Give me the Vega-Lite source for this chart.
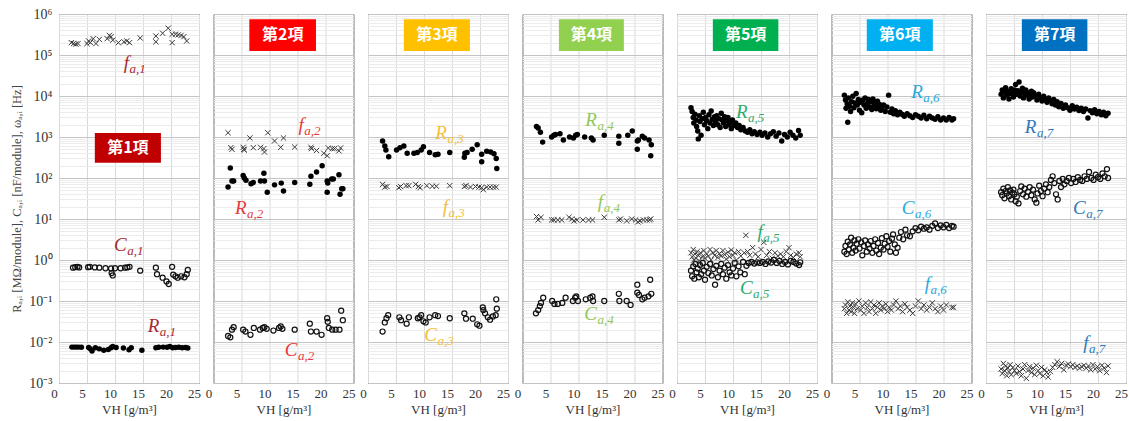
{
  "$schema": "https://vega.github.io/schema/vega-lite/v6.json",
  "background": "white",
  "padding": {"left": 10, "top": 7, "right": 5, "bottom": 5},
  "bounds": "flush",
  "spacing": 14.5,
  "datasets": {
    "pts": [
      {"p":1,"k":"f","x":2.2,"y":200000},{"p":1,"k":"f","x":2.6,"y":190000},{"p":1,"k":"f","x":3.0,"y":185000},{"p":1,"k":"f","x":3.4,"y":190000},{"p":1,"k":"f","x":5.0,"y":190000},{"p":1,"k":"f","x":5.3,"y":220000},{"p":1,"k":"f","x":5.6,"y":200000},{"p":1,"k":"f","x":6.1,"y":250000},{"p":1,"k":"f","x":6.6,"y":190000},{"p":1,"k":"f","x":7.2,"y":240000},{"p":1,"k":"f","x":8.6,"y":250000},{"p":1,"k":"f","x":9.0,"y":300000},{"p":1,"k":"f","x":9.3,"y":280000},{"p":1,"k":"f","x":9.6,"y":230000},{"p":1,"k":"f","x":10.6,"y":200000},{"p":1,"k":"f","x":11.6,"y":210000},{"p":1,"k":"f","x":12.1,"y":220000},{"p":1,"k":"f","x":12.6,"y":200000},{"p":1,"k":"f","x":14.5,"y":260000},{"p":1,"k":"f","x":17.3,"y":290000},{"p":1,"k":"f","x":17.3,"y":210000},{"p":1,"k":"f","x":18.5,"y":340000},{"p":1,"k":"f","x":19.5,"y":450000},{"p":1,"k":"f","x":20.2,"y":320000},{"p":1,"k":"f","x":20.2,"y":200000},{"p":1,"k":"f","x":20.8,"y":320000},{"p":1,"k":"f","x":21.3,"y":310000},{"p":1,"k":"f","x":21.8,"y":300000},{"p":1,"k":"f","x":22.3,"y":280000},{"p":1,"k":"f","x":22.8,"y":220000},
      {"p":1,"k":"C","x":2.5,"y":0.65},{"p":1,"k":"C","x":2.9,"y":0.67},{"p":1,"k":"C","x":3.3,"y":0.68},{"p":1,"k":"C","x":3.6,"y":0.66},{"p":1,"k":"C","x":5.2,"y":0.67},{"p":1,"k":"C","x":5.5,"y":0.68},{"p":1,"k":"C","x":6.4,"y":0.66},{"p":1,"k":"C","x":7.2,"y":0.65},{"p":1,"k":"C","x":8.3,"y":0.63},{"p":1,"k":"C","x":9.3,"y":0.62},{"p":1,"k":"C","x":9.4,"y":0.48},{"p":1,"k":"C","x":9.6,"y":0.42},{"p":1,"k":"C","x":10.0,"y":0.63},{"p":1,"k":"C","x":11.0,"y":0.63},{"p":1,"k":"C","x":11.8,"y":0.65},{"p":1,"k":"C","x":12.2,"y":0.66},{"p":1,"k":"C","x":12.6,"y":0.68},{"p":1,"k":"C","x":14.5,"y":0.55},{"p":1,"k":"C","x":17.3,"y":0.65},{"p":1,"k":"C","x":17.5,"y":0.45},{"p":1,"k":"C","x":18.5,"y":0.37},{"p":1,"k":"C","x":19.2,"y":0.30},{"p":1,"k":"C","x":19.6,"y":0.26},{"p":1,"k":"C","x":20.2,"y":0.68},{"p":1,"k":"C","x":20.4,"y":0.44},{"p":1,"k":"C","x":20.8,"y":0.40},{"p":1,"k":"C","x":21.2,"y":0.37},{"p":1,"k":"C","x":21.8,"y":0.40},{"p":1,"k":"C","x":22.4,"y":0.38},{"p":1,"k":"C","x":22.8,"y":0.45},{"p":1,"k":"C","x":23.0,"y":0.57},
      {"p":1,"k":"R","x":2.3,"y":0.0075},{"p":1,"k":"R","x":2.7,"y":0.0075},{"p":1,"k":"R","x":3.1,"y":0.0075},{"p":1,"k":"R","x":3.5,"y":0.0075},{"p":1,"k":"R","x":4.0,"y":0.0074},{"p":1,"k":"R","x":5.3,"y":0.0073},{"p":1,"k":"R","x":5.6,"y":0.0068},{"p":1,"k":"R","x":5.9,"y":0.006},{"p":1,"k":"R","x":6.5,"y":0.0072},{"p":1,"k":"R","x":7.2,"y":0.0068},{"p":1,"k":"R","x":8.0,"y":0.0063},{"p":1,"k":"R","x":8.8,"y":0.0066},{"p":1,"k":"R","x":9.3,"y":0.0072},{"p":1,"k":"R","x":9.6,"y":0.0078},{"p":1,"k":"R","x":10.2,"y":0.0073},{"p":1,"k":"R","x":11.5,"y":0.0071},{"p":1,"k":"R","x":12.5,"y":0.0065},{"p":1,"k":"R","x":12.9,"y":0.0072},{"p":1,"k":"R","x":14.8,"y":0.0063},{"p":1,"k":"R","x":17.3,"y":0.0072},{"p":1,"k":"R","x":17.8,"y":0.0074},{"p":1,"k":"R","x":18.6,"y":0.0075},{"p":1,"k":"R","x":19.3,"y":0.0074},{"p":1,"k":"R","x":19.8,"y":0.0078},{"p":1,"k":"R","x":20.3,"y":0.0072},{"p":1,"k":"R","x":20.8,"y":0.0073},{"p":1,"k":"R","x":21.4,"y":0.0074},{"p":1,"k":"R","x":22.0,"y":0.0072},{"p":1,"k":"R","x":22.6,"y":0.0073},{"p":1,"k":"R","x":23.0,"y":0.0071},

      {"p":2,"k":"f","x":2.6,"y":1270},{"p":2,"k":"f","x":3.1,"y":550},{"p":2,"k":"f","x":3.3,"y":500},{"p":2,"k":"f","x":5.3,"y":560},{"p":2,"k":"f","x":5.4,"y":500},{"p":2,"k":"f","x":5.5,"y":480},{"p":2,"k":"f","x":6.5,"y":950},{"p":2,"k":"f","x":7.1,"y":550},{"p":2,"k":"f","x":8.4,"y":560},{"p":2,"k":"f","x":9.0,"y":520},{"p":2,"k":"f","x":9.1,"y":430},{"p":2,"k":"f","x":9.7,"y":1270},{"p":2,"k":"f","x":10.9,"y":800},{"p":2,"k":"f","x":12.0,"y":560},{"p":2,"k":"f","x":12.5,"y":950},{"p":2,"k":"f","x":14.5,"y":570},{"p":2,"k":"f","x":17.4,"y":560},{"p":2,"k":"f","x":17.5,"y":520},{"p":2,"k":"f","x":18.4,"y":470},{"p":2,"k":"f","x":19.7,"y":400},{"p":2,"k":"f","x":20.3,"y":350},{"p":2,"k":"f","x":20.5,"y":540},{"p":2,"k":"f","x":21.2,"y":520},{"p":2,"k":"f","x":21.6,"y":520},{"p":2,"k":"f","x":22.4,"y":460},{"p":2,"k":"f","x":22.7,"y":540},
      {"p":2,"k":"R","x":2.6,"y":60},{"p":2,"k":"R","x":3.0,"y":175},{"p":2,"k":"R","x":3.3,"y":85},{"p":2,"k":"R","x":3.6,"y":85},{"p":2,"k":"R","x":5.3,"y":115},{"p":2,"k":"R","x":5.5,"y":100},{"p":2,"k":"R","x":5.8,"y":88},{"p":2,"k":"R","x":6.7,"y":72},{"p":2,"k":"R","x":7.1,"y":78},{"p":2,"k":"R","x":8.4,"y":85},{"p":2,"k":"R","x":9.0,"y":130},{"p":2,"k":"R","x":9.1,"y":85},{"p":2,"k":"R","x":9.6,"y":45},{"p":2,"k":"R","x":10.9,"y":68},{"p":2,"k":"R","x":12.1,"y":75},{"p":2,"k":"R","x":12.5,"y":48},{"p":2,"k":"R","x":14.5,"y":78},{"p":2,"k":"R","x":17.2,"y":70},{"p":2,"k":"R","x":17.4,"y":110},{"p":2,"k":"R","x":18.4,"y":140},{"p":2,"k":"R","x":19.4,"y":200},{"p":2,"k":"R","x":20.3,"y":85},{"p":2,"k":"R","x":20.4,"y":75},{"p":2,"k":"R","x":20.3,"y":45},{"p":2,"k":"R","x":21.1,"y":95},{"p":2,"k":"R","x":21.4,"y":95},{"p":2,"k":"R","x":22.4,"y":120},{"p":2,"k":"R","x":22.6,"y":40},{"p":2,"k":"R","x":22.9,"y":55},{"p":2,"k":"R","x":23.1,"y":55},
      {"p":2,"k":"C","x":2.6,"y":0.014},{"p":2,"k":"C","x":3.0,"y":0.013},{"p":2,"k":"C","x":3.3,"y":0.02},{"p":2,"k":"C","x":3.6,"y":0.023},{"p":2,"k":"C","x":5.3,"y":0.02},{"p":2,"k":"C","x":5.7,"y":0.018},{"p":2,"k":"C","x":6.6,"y":0.015},{"p":2,"k":"C","x":7.2,"y":0.022},{"p":2,"k":"C","x":8.3,"y":0.02},{"p":2,"k":"C","x":8.8,"y":0.022},{"p":2,"k":"C","x":9.1,"y":0.023},{"p":2,"k":"C","x":9.5,"y":0.021},{"p":2,"k":"C","x":10.7,"y":0.019},{"p":2,"k":"C","x":11.7,"y":0.022},{"p":2,"k":"C","x":12.0,"y":0.024},{"p":2,"k":"C","x":12.3,"y":0.021},{"p":2,"k":"C","x":14.5,"y":0.02},{"p":2,"k":"C","x":17.2,"y":0.028},{"p":2,"k":"C","x":17.4,"y":0.018},{"p":2,"k":"C","x":18.4,"y":0.018},{"p":2,"k":"C","x":19.3,"y":0.015},{"p":2,"k":"C","x":20.3,"y":0.038},{"p":2,"k":"C","x":20.4,"y":0.031},{"p":2,"k":"C","x":20.6,"y":0.022},{"p":2,"k":"C","x":21.2,"y":0.02},{"p":2,"k":"C","x":21.8,"y":0.02},{"p":2,"k":"C","x":22.5,"y":0.02},{"p":2,"k":"C","x":22.8,"y":0.058},{"p":2,"k":"C","x":23.1,"y":0.034},

      {"p":3,"k":"R","x":2.6,"y":800},{"p":3,"k":"R","x":3.0,"y":600},{"p":3,"k":"R","x":3.2,"y":480},{"p":3,"k":"R","x":3.7,"y":330},{"p":3,"k":"R","x":5.1,"y":480},{"p":3,"k":"R","x":5.7,"y":550},{"p":3,"k":"R","x":6.4,"y":600},{"p":3,"k":"R","x":7.0,"y":400},{"p":3,"k":"R","x":8.2,"y":400},{"p":3,"k":"R","x":8.8,"y":420},{"p":3,"k":"R","x":9.5,"y":480},{"p":3,"k":"R","x":9.9,"y":580},{"p":3,"k":"R","x":11.0,"y":420},{"p":3,"k":"R","x":12.0,"y":370},{"p":3,"k":"R","x":12.5,"y":380},{"p":3,"k":"R","x":14.6,"y":420},{"p":3,"k":"R","x":17.2,"y":320},{"p":3,"k":"R","x":17.3,"y":400},{"p":3,"k":"R","x":17.7,"y":420},{"p":3,"k":"R","x":18.6,"y":500},{"p":3,"k":"R","x":19.5,"y":650},{"p":3,"k":"R","x":20.3,"y":380},{"p":3,"k":"R","x":20.3,"y":250},{"p":3,"k":"R","x":21.2,"y":450},{"p":3,"k":"R","x":21.9,"y":430},{"p":3,"k":"R","x":22.5,"y":390},{"p":3,"k":"R","x":22.9,"y":300},{"p":3,"k":"R","x":23.0,"y":170},
      {"p":3,"k":"f","x":2.6,"y":70},{"p":3,"k":"f","x":3.0,"y":60},{"p":3,"k":"f","x":3.4,"y":62},{"p":3,"k":"f","x":5.5,"y":58},{"p":3,"k":"f","x":5.8,"y":62},{"p":3,"k":"f","x":6.8,"y":65},{"p":3,"k":"f","x":7.3,"y":65},{"p":3,"k":"f","x":8.5,"y":70},{"p":3,"k":"f","x":9.0,"y":62},{"p":3,"k":"f","x":9.3,"y":58},{"p":3,"k":"f","x":10.5,"y":65},{"p":3,"k":"f","x":11.5,"y":63},{"p":3,"k":"f","x":12.2,"y":63},{"p":3,"k":"f","x":14.6,"y":65},{"p":3,"k":"f","x":17.2,"y":62},{"p":3,"k":"f","x":17.5,"y":65},{"p":3,"k":"f","x":18.3,"y":60},{"p":3,"k":"f","x":19.2,"y":62},{"p":3,"k":"f","x":19.8,"y":60},{"p":3,"k":"f","x":20.3,"y":58},{"p":3,"k":"f","x":20.6,"y":52},{"p":3,"k":"f","x":21.2,"y":60},{"p":3,"k":"f","x":21.8,"y":60},{"p":3,"k":"f","x":22.4,"y":60},{"p":3,"k":"f","x":22.9,"y":60},
      {"p":3,"k":"C","x":2.6,"y":0.018},{"p":3,"k":"C","x":3.0,"y":0.03},{"p":3,"k":"C","x":3.3,"y":0.038},{"p":3,"k":"C","x":3.6,"y":0.045},{"p":3,"k":"C","x":5.6,"y":0.04},{"p":3,"k":"C","x":5.9,"y":0.034},{"p":3,"k":"C","x":6.9,"y":0.028},{"p":3,"k":"C","x":7.3,"y":0.04},{"p":3,"k":"C","x":8.9,"y":0.038},{"p":3,"k":"C","x":9.2,"y":0.04},{"p":3,"k":"C","x":9.5,"y":0.045},{"p":3,"k":"C","x":9.9,"y":0.032},{"p":3,"k":"C","x":10.3,"y":0.03},{"p":3,"k":"C","x":11.0,"y":0.04},{"p":3,"k":"C","x":12.0,"y":0.045},{"p":3,"k":"C","x":12.5,"y":0.043},{"p":3,"k":"C","x":14.6,"y":0.038},{"p":3,"k":"C","x":17.2,"y":0.05},{"p":3,"k":"C","x":17.5,"y":0.037},{"p":3,"k":"C","x":18.7,"y":0.037},{"p":3,"k":"C","x":19.5,"y":0.027},{"p":3,"k":"C","x":19.9,"y":0.025},{"p":3,"k":"C","x":20.5,"y":0.07},{"p":3,"k":"C","x":20.6,"y":0.06},{"p":3,"k":"C","x":20.9,"y":0.05},{"p":3,"k":"C","x":21.4,"y":0.04},{"p":3,"k":"C","x":21.8,"y":0.035},{"p":3,"k":"C","x":22.3,"y":0.042},{"p":3,"k":"C","x":22.8,"y":0.045},{"p":3,"k":"C","x":22.9,"y":0.11},{"p":3,"k":"C","x":23.0,"y":0.065},

      {"p":4,"k":"R","x":2.5,"y":1800},{"p":4,"k":"R","x":2.8,"y":1650},{"p":4,"k":"R","x":3.2,"y":1300},{"p":4,"k":"R","x":3.6,"y":750},{"p":4,"k":"R","x":5.2,"y":1000},{"p":4,"k":"R","x":5.6,"y":1100},{"p":4,"k":"R","x":5.9,"y":1150},{"p":4,"k":"R","x":6.7,"y":1200},{"p":4,"k":"R","x":7.3,"y":850},{"p":4,"k":"R","x":8.4,"y":1000},{"p":4,"k":"R","x":9.1,"y":950},{"p":4,"k":"R","x":9.5,"y":1100},{"p":4,"k":"R","x":9.8,"y":1150},{"p":4,"k":"R","x":11.1,"y":1000},{"p":4,"k":"R","x":12.3,"y":950},{"p":4,"k":"R","x":12.6,"y":850},{"p":4,"k":"R","x":14.6,"y":1100},{"p":4,"k":"R","x":17.2,"y":1050},{"p":4,"k":"R","x":17.2,"y":700},{"p":4,"k":"R","x":18.8,"y":1100},{"p":4,"k":"R","x":19.6,"y":1400},{"p":4,"k":"R","x":20.5,"y":800},{"p":4,"k":"R","x":20.5,"y":500},{"p":4,"k":"R","x":20.7,"y":850},{"p":4,"k":"R","x":21.4,"y":1050},{"p":4,"k":"R","x":21.8,"y":950},{"p":4,"k":"R","x":22.6,"y":850},{"p":4,"k":"R","x":22.9,"y":350},{"p":4,"k":"R","x":23.0,"y":650},
      {"p":4,"k":"f","x":2.5,"y":11.5},{"p":4,"k":"f","x":2.8,"y":9.5},{"p":4,"k":"f","x":3.3,"y":11},{"p":4,"k":"f","x":5.2,"y":9.5},{"p":4,"k":"f","x":5.6,"y":9.5},{"p":4,"k":"f","x":6.3,"y":9.5},{"p":4,"k":"f","x":7.0,"y":9.5},{"p":4,"k":"f","x":8.3,"y":11},{"p":4,"k":"f","x":8.8,"y":10},{"p":4,"k":"f","x":9.2,"y":9},{"p":4,"k":"f","x":9.7,"y":9.5},{"p":4,"k":"f","x":10.8,"y":9.5},{"p":4,"k":"f","x":11.8,"y":9.5},{"p":4,"k":"f","x":12.5,"y":9.5},{"p":4,"k":"f","x":14.6,"y":11},{"p":4,"k":"f","x":17.2,"y":9.5},{"p":4,"k":"f","x":17.5,"y":10},{"p":4,"k":"f","x":18.6,"y":9},{"p":4,"k":"f","x":19.5,"y":10},{"p":4,"k":"f","x":20.2,"y":9.5},{"p":4,"k":"f","x":20.6,"y":8.5},{"p":4,"k":"f","x":21.0,"y":9},{"p":4,"k":"f","x":21.6,"y":9.5},{"p":4,"k":"f","x":22.2,"y":9.5},{"p":4,"k":"f","x":22.7,"y":9.5},{"p":4,"k":"f","x":22.9,"y":10},
      {"p":4,"k":"C","x":2.4,"y":0.05},{"p":4,"k":"C","x":2.8,"y":0.06},{"p":4,"k":"C","x":3.1,"y":0.075},{"p":4,"k":"C","x":3.3,"y":0.09},{"p":4,"k":"C","x":3.7,"y":0.12},{"p":4,"k":"C","x":5.3,"y":0.1},{"p":4,"k":"C","x":5.7,"y":0.085},{"p":4,"k":"C","x":6.3,"y":0.085},{"p":4,"k":"C","x":7.1,"y":0.09},{"p":4,"k":"C","x":7.7,"y":0.12},{"p":4,"k":"C","x":9.0,"y":0.1},{"p":4,"k":"C","x":9.4,"y":0.12},{"p":4,"k":"C","x":9.6,"y":0.13},{"p":4,"k":"C","x":9.9,"y":0.1},{"p":4,"k":"C","x":11.3,"y":0.11},{"p":4,"k":"C","x":12.1,"y":0.12},{"p":4,"k":"C","x":12.5,"y":0.13},{"p":4,"k":"C","x":12.6,"y":0.1},{"p":4,"k":"C","x":14.6,"y":0.1},{"p":4,"k":"C","x":17.2,"y":0.15},{"p":4,"k":"C","x":17.3,"y":0.1},{"p":4,"k":"C","x":18.6,"y":0.1},{"p":4,"k":"C","x":19.3,"y":0.08},{"p":4,"k":"C","x":20.5,"y":0.25},{"p":4,"k":"C","x":20.5,"y":0.16},{"p":4,"k":"C","x":20.8,"y":0.14},{"p":4,"k":"C","x":21.4,"y":0.11},{"p":4,"k":"C","x":21.8,"y":0.12},{"p":4,"k":"C","x":22.5,"y":0.13},{"p":4,"k":"C","x":22.8,"y":0.33},{"p":4,"k":"C","x":23.0,"y":0.15},

      {"p":5,"k":"R","x":2.5,"y":5200},{"p":5,"k":"R","x":2.7,"y":4200},{"p":5,"k":"R","x":2.9,"y":3000},{"p":5,"k":"R","x":3.0,"y":2200},{"p":5,"k":"R","x":3.2,"y":3600},{"p":5,"k":"R","x":3.4,"y":2600},{"p":5,"k":"R","x":3.5,"y":1800},{"p":5,"k":"R","x":3.7,"y":1400},{"p":5,"k":"R","x":3.8,"y":900},{"p":5,"k":"R","x":4.0,"y":3300},{"p":5,"k":"R","x":4.1,"y":2400},{"p":5,"k":"R","x":4.3,"y":1100},{"p":5,"k":"R","x":4.5,"y":2800},{"p":5,"k":"R","x":4.7,"y":4000},{"p":5,"k":"R","x":4.9,"y":2000},{"p":5,"k":"R","x":5.1,"y":3000},{"p":5,"k":"R","x":5.3,"y":2500},{"p":5,"k":"R","x":5.5,"y":1600},{"p":5,"k":"R","x":5.7,"y":3500},{"p":5,"k":"R","x":5.9,"y":2200},{"p":5,"k":"R","x":6.1,"y":4300},{"p":5,"k":"R","x":6.3,"y":2700},{"p":5,"k":"R","x":6.5,"y":1900},{"p":5,"k":"R","x":6.7,"y":3100},{"p":5,"k":"R","x":6.9,"y":2400},{"p":5,"k":"R","x":7.1,"y":3300},{"p":5,"k":"R","x":7.3,"y":2000},{"p":5,"k":"R","x":7.5,"y":2800},{"p":5,"k":"R","x":7.7,"y":1700},{"p":5,"k":"R","x":7.9,"y":3800},{"p":5,"k":"R","x":8.1,"y":2600},{"p":5,"k":"R","x":8.3,"y":2200},{"p":5,"k":"R","x":8.5,"y":3100},{"p":5,"k":"R","x":8.7,"y":1800},{"p":5,"k":"R","x":8.9,"y":2500},{"p":5,"k":"R","x":9.1,"y":3000},{"p":5,"k":"R","x":9.3,"y":2000},{"p":5,"k":"R","x":9.5,"y":2300},{"p":5,"k":"R","x":9.7,"y":1600},{"p":5,"k":"R","x":9.9,"y":2600},{"p":5,"k":"R","x":10.2,"y":1900},{"p":5,"k":"R","x":10.5,"y":2200},{"p":5,"k":"R","x":10.8,"y":1700},{"p":5,"k":"R","x":11.1,"y":1900},{"p":5,"k":"R","x":11.4,"y":1500},{"p":5,"k":"R","x":11.8,"y":1700},{"p":5,"k":"R","x":12.2,"y":1400},{"p":5,"k":"R","x":12.6,"y":1300},{"p":5,"k":"R","x":13.0,"y":1500},{"p":5,"k":"R","x":13.4,"y":1200},{"p":5,"k":"R","x":13.8,"y":1350},{"p":5,"k":"R","x":14.3,"y":1150},{"p":5,"k":"R","x":14.8,"y":1300},{"p":5,"k":"R","x":15.2,"y":1100},{"p":5,"k":"R","x":15.7,"y":1250},{"p":5,"k":"R","x":16.2,"y":1000},{"p":5,"k":"R","x":16.7,"y":1200},{"p":5,"k":"R","x":17.2,"y":1350},{"p":5,"k":"R","x":17.7,"y":1050},{"p":5,"k":"R","x":18.2,"y":1250},{"p":5,"k":"R","x":18.7,"y":800},{"p":5,"k":"R","x":19.2,"y":1150},{"p":5,"k":"R","x":19.7,"y":1000},{"p":5,"k":"R","x":20.2,"y":1300},{"p":5,"k":"R","x":20.7,"y":1100},{"p":5,"k":"R","x":21.2,"y":950},{"p":5,"k":"R","x":21.7,"y":1450},{"p":5,"k":"R","x":22.0,"y":1100},
      {"p":5,"k":"f","x":2.5,"y":1.5},{"p":5,"k":"f","x":2.7,"y":1.2},{"p":5,"k":"f","x":2.9,"y":1.8},{"p":5,"k":"f","x":3.0,"y":1.0},{"p":5,"k":"f","x":3.2,"y":1.4},{"p":5,"k":"f","x":3.4,"y":1.1},{"p":5,"k":"f","x":3.6,"y":1.6},{"p":5,"k":"f","x":3.8,"y":1.3},{"p":5,"k":"f","x":4.0,"y":0.95},{"p":5,"k":"f","x":4.2,"y":1.5},{"p":5,"k":"f","x":4.5,"y":1.2},{"p":5,"k":"f","x":4.8,"y":1.7},{"p":5,"k":"f","x":5.0,"y":1.1},{"p":5,"k":"f","x":5.3,"y":1.4},{"p":5,"k":"f","x":5.6,"y":1.25},{"p":5,"k":"f","x":5.9,"y":1.8},{"p":5,"k":"f","x":6.1,"y":1.0},{"p":5,"k":"f","x":6.4,"y":1.5},{"p":5,"k":"f","x":6.7,"y":1.3},{"p":5,"k":"f","x":7.0,"y":1.7},{"p":5,"k":"f","x":7.3,"y":1.15},{"p":5,"k":"f","x":7.6,"y":1.45},{"p":5,"k":"f","x":7.9,"y":1.25},{"p":5,"k":"f","x":8.2,"y":1.7},{"p":5,"k":"f","x":8.5,"y":1.35},{"p":5,"k":"f","x":8.8,"y":1.05},{"p":5,"k":"f","x":9.1,"y":1.55},{"p":5,"k":"f","x":9.4,"y":1.2},{"p":5,"k":"f","x":9.7,"y":1.75},{"p":5,"k":"f","x":10.0,"y":1.3},{"p":5,"k":"f","x":10.3,"y":1.5},{"p":5,"k":"f","x":10.6,"y":1.0},{"p":5,"k":"f","x":11.0,"y":1.6},{"p":5,"k":"f","x":11.4,"y":1.25},{"p":5,"k":"f","x":12.0,"y":1.5},{"p":5,"k":"f","x":12.3,"y":4.0},{"p":5,"k":"f","x":12.6,"y":1.6},{"p":5,"k":"f","x":13.0,"y":1.3},{"p":5,"k":"f","x":13.5,"y":2.0},{"p":5,"k":"f","x":14.0,"y":1.4},{"p":5,"k":"f","x":14.5,"y":1.2},{"p":5,"k":"f","x":15.0,"y":1.8},{"p":5,"k":"f","x":15.5,"y":2.7},{"p":5,"k":"f","x":16.0,"y":1.3},{"p":5,"k":"f","x":16.5,"y":1.6},{"p":5,"k":"f","x":17.0,"y":1.1},{"p":5,"k":"f","x":17.5,"y":1.5},{"p":5,"k":"f","x":18.0,"y":1.25},{"p":5,"k":"f","x":18.5,"y":1.4},{"p":5,"k":"f","x":19.0,"y":1.2},{"p":5,"k":"f","x":19.5,"y":1.6},{"p":5,"k":"f","x":20.0,"y":2.0},{"p":5,"k":"f","x":20.3,"y":1.3},{"p":5,"k":"f","x":20.8,"y":1.15},{"p":5,"k":"f","x":21.3,"y":1.4},{"p":5,"k":"f","x":21.8,"y":1.5},{"p":5,"k":"f","x":22.0,"y":1.2},
      {"p":5,"k":"C","x":2.5,"y":0.55},{"p":5,"k":"C","x":2.7,"y":0.4},{"p":5,"k":"C","x":2.9,"y":0.7},{"p":5,"k":"C","x":3.1,"y":0.35},{"p":5,"k":"C","x":3.3,"y":0.8},{"p":5,"k":"C","x":3.5,"y":0.5},{"p":5,"k":"C","x":3.7,"y":0.62},{"p":5,"k":"C","x":3.9,"y":0.38},{"p":5,"k":"C","x":4.1,"y":0.75},{"p":5,"k":"C","x":4.3,"y":0.45},{"p":5,"k":"C","x":4.6,"y":0.85},{"p":5,"k":"C","x":4.8,"y":0.55},{"p":5,"k":"C","x":5.0,"y":0.33},{"p":5,"k":"C","x":5.3,"y":0.68},{"p":5,"k":"C","x":5.6,"y":0.48},{"p":5,"k":"C","x":5.9,"y":0.8},{"p":5,"k":"C","x":6.2,"y":0.42},{"p":5,"k":"C","x":6.5,"y":0.6},{"p":5,"k":"C","x":6.8,"y":0.25},{"p":5,"k":"C","x":7.0,"y":0.72},{"p":5,"k":"C","x":7.3,"y":0.38},{"p":5,"k":"C","x":7.6,"y":0.55},{"p":5,"k":"C","x":7.9,"y":0.8},{"p":5,"k":"C","x":8.2,"y":0.45},{"p":5,"k":"C","x":8.5,"y":0.65},{"p":5,"k":"C","x":8.8,"y":0.35},{"p":5,"k":"C","x":9.1,"y":0.75},{"p":5,"k":"C","x":9.4,"y":0.5},{"p":5,"k":"C","x":9.7,"y":0.42},{"p":5,"k":"C","x":10.0,"y":0.62},{"p":5,"k":"C","x":10.3,"y":0.85},{"p":5,"k":"C","x":10.6,"y":0.4},{"p":5,"k":"C","x":11.0,"y":0.7},{"p":5,"k":"C","x":11.3,"y":0.5},{"p":5,"k":"C","x":11.8,"y":0.9},{"p":5,"k":"C","x":12.1,"y":0.45},{"p":5,"k":"C","x":12.4,"y":0.72},{"p":5,"k":"C","x":12.8,"y":0.85},{"p":5,"k":"C","x":13.3,"y":0.9},{"p":5,"k":"C","x":13.8,"y":0.82},{"p":5,"k":"C","x":14.3,"y":0.88},{"p":5,"k":"C","x":14.8,"y":0.85},{"p":5,"k":"C","x":15.3,"y":0.9},{"p":5,"k":"C","x":15.8,"y":0.8},{"p":5,"k":"C","x":16.3,"y":0.92},{"p":5,"k":"C","x":16.8,"y":0.87},{"p":5,"k":"C","x":17.3,"y":1.0},{"p":5,"k":"C","x":17.8,"y":0.85},{"p":5,"k":"C","x":18.3,"y":0.95},{"p":5,"k":"C","x":18.8,"y":0.8},{"p":5,"k":"C","x":19.3,"y":0.9},{"p":5,"k":"C","x":19.8,"y":0.78},{"p":5,"k":"C","x":20.3,"y":0.95},{"p":5,"k":"C","x":20.8,"y":0.9},{"p":5,"k":"C","x":21.3,"y":0.82},{"p":5,"k":"C","x":21.8,"y":0.75},{"p":5,"k":"C","x":22.0,"y":0.88},

      {"p":6,"k":"R","x":2.3,"y":10500},{"p":6,"k":"R","x":2.5,"y":8000},{"p":6,"k":"R","x":2.6,"y":5000},{"p":6,"k":"R","x":2.8,"y":6500},{"p":6,"k":"R","x":2.9,"y":2300},{"p":6,"k":"R","x":3.0,"y":9000},{"p":6,"k":"R","x":3.2,"y":5600},{"p":6,"k":"R","x":3.4,"y":4200},{"p":6,"k":"R","x":3.6,"y":7200},{"p":6,"k":"R","x":3.8,"y":9800},{"p":6,"k":"R","x":4.0,"y":5200},{"p":6,"k":"R","x":4.2,"y":6800},{"p":6,"k":"R","x":4.4,"y":11500},{"p":6,"k":"R","x":4.6,"y":6000},{"p":6,"k":"R","x":4.8,"y":8200},{"p":6,"k":"R","x":5.0,"y":4500},{"p":6,"k":"R","x":5.2,"y":7000},{"p":6,"k":"R","x":5.4,"y":3900},{"p":6,"k":"R","x":5.6,"y":8000},{"p":6,"k":"R","x":5.8,"y":6000},{"p":6,"k":"R","x":6.0,"y":9000},{"p":6,"k":"R","x":6.2,"y":5000},{"p":6,"k":"R","x":6.4,"y":6600},{"p":6,"k":"R","x":6.6,"y":8200},{"p":6,"k":"R","x":6.8,"y":5400},{"p":6,"k":"R","x":7.0,"y":7200},{"p":6,"k":"R","x":7.2,"y":4700},{"p":6,"k":"R","x":7.4,"y":8500},{"p":6,"k":"R","x":7.6,"y":6000},{"p":6,"k":"R","x":7.8,"y":6800},{"p":6,"k":"R","x":8.0,"y":4900},{"p":6,"k":"R","x":8.2,"y":7400},{"p":6,"k":"R","x":8.4,"y":5500},{"p":6,"k":"R","x":8.6,"y":6200},{"p":6,"k":"R","x":8.8,"y":4500},{"p":6,"k":"R","x":9.0,"y":5200},{"p":6,"k":"R","x":9.3,"y":6000},{"p":6,"k":"R","x":9.6,"y":4200},{"p":6,"k":"R","x":9.9,"y":5400},{"p":6,"k":"R","x":10.2,"y":10500},{"p":6,"k":"R","x":10.5,"y":4000},{"p":6,"k":"R","x":10.8,"y":4800},{"p":6,"k":"R","x":11.1,"y":3700},{"p":6,"k":"R","x":11.4,"y":4400},{"p":6,"k":"R","x":11.8,"y":3500},{"p":6,"k":"R","x":12.2,"y":4000},{"p":6,"k":"R","x":12.6,"y":3600},{"p":6,"k":"R","x":13.0,"y":3200},{"p":6,"k":"R","x":13.5,"y":3700},{"p":6,"k":"R","x":14.0,"y":3300},{"p":6,"k":"R","x":14.5,"y":3000},{"p":6,"k":"R","x":15.0,"y":3500},{"p":6,"k":"R","x":15.5,"y":3200},{"p":6,"k":"R","x":16.0,"y":2900},{"p":6,"k":"R","x":16.5,"y":3400},{"p":6,"k":"R","x":17.0,"y":2800},{"p":6,"k":"R","x":17.5,"y":3200},{"p":6,"k":"R","x":18.0,"y":2900},{"p":6,"k":"R","x":18.5,"y":2700},{"p":6,"k":"R","x":19.0,"y":3100},{"p":6,"k":"R","x":19.5,"y":2600},{"p":6,"k":"R","x":20.0,"y":2900},{"p":6,"k":"R","x":20.5,"y":2600},{"p":6,"k":"R","x":21.0,"y":3000},{"p":6,"k":"R","x":21.5,"y":2600},{"p":6,"k":"R","x":21.8,"y":2800},
      {"p":6,"k":"C","x":2.3,"y":1.6},{"p":6,"k":"C","x":2.5,"y":2.2},{"p":6,"k":"C","x":2.7,"y":1.4},{"p":6,"k":"C","x":2.9,"y":2.8},{"p":6,"k":"C","x":3.1,"y":1.8},{"p":6,"k":"C","x":3.3,"y":2.4},{"p":6,"k":"C","x":3.5,"y":3.5},{"p":6,"k":"C","x":3.7,"y":1.5},{"p":6,"k":"C","x":3.9,"y":2.0},{"p":6,"k":"C","x":4.1,"y":3.0},{"p":6,"k":"C","x":4.3,"y":1.7},{"p":6,"k":"C","x":4.5,"y":2.5},{"p":6,"k":"C","x":4.8,"y":3.2},{"p":6,"k":"C","x":5.0,"y":1.9},{"p":6,"k":"C","x":5.3,"y":2.7},{"p":6,"k":"C","x":5.5,"y":1.3},{"p":6,"k":"C","x":5.8,"y":2.2},{"p":6,"k":"C","x":6.0,"y":3.0},{"p":6,"k":"C","x":6.3,"y":1.6},{"p":6,"k":"C","x":6.5,"y":2.4},{"p":6,"k":"C","x":6.8,"y":1.9},{"p":6,"k":"C","x":7.0,"y":2.9},{"p":6,"k":"C","x":7.3,"y":1.5},{"p":6,"k":"C","x":7.5,"y":2.2},{"p":6,"k":"C","x":7.8,"y":3.2},{"p":6,"k":"C","x":8.0,"y":1.7},{"p":6,"k":"C","x":8.3,"y":2.6},{"p":6,"k":"C","x":8.5,"y":1.4},{"p":6,"k":"C","x":8.8,"y":2.0},{"p":6,"k":"C","x":9.0,"y":3.4},{"p":6,"k":"C","x":9.3,"y":1.8},{"p":6,"k":"C","x":9.5,"y":2.5},{"p":6,"k":"C","x":9.8,"y":3.8},{"p":6,"k":"C","x":10.0,"y":2.1},{"p":6,"k":"C","x":10.3,"y":2.9},{"p":6,"k":"C","x":10.5,"y":1.6},{"p":6,"k":"C","x":10.8,"y":3.3},{"p":6,"k":"C","x":11.0,"y":4.2},{"p":6,"k":"C","x":11.3,"y":2.4},{"p":6,"k":"C","x":11.5,"y":1.5},{"p":6,"k":"C","x":11.8,"y":2.0},{"p":6,"k":"C","x":12.1,"y":3.5},{"p":6,"k":"C","x":12.4,"y":4.8},{"p":6,"k":"C","x":12.8,"y":3.2},{"p":6,"k":"C","x":13.2,"y":5.5},{"p":6,"k":"C","x":13.5,"y":4.0},{"p":6,"k":"C","x":14.0,"y":3.8},{"p":6,"k":"C","x":14.5,"y":5.0},{"p":6,"k":"C","x":15.0,"y":6.0},{"p":6,"k":"C","x":15.5,"y":5.3},{"p":6,"k":"C","x":16.0,"y":6.5},{"p":6,"k":"C","x":16.5,"y":5.8},{"p":6,"k":"C","x":17.0,"y":6.2},{"p":6,"k":"C","x":17.5,"y":5.5},{"p":6,"k":"C","x":18.0,"y":6.8},{"p":6,"k":"C","x":18.5,"y":7.8},{"p":6,"k":"C","x":19.0,"y":6.0},{"p":6,"k":"C","x":19.5,"y":7.0},{"p":6,"k":"C","x":20.0,"y":6.3},{"p":6,"k":"C","x":20.5,"y":7.2},{"p":6,"k":"C","x":21.0,"y":6.0},{"p":6,"k":"C","x":21.5,"y":6.8},{"p":6,"k":"C","x":21.8,"y":6.5},
      {"p":6,"k":"f","x":2.3,"y":0.065},{"p":6,"k":"f","x":2.5,"y":0.08},{"p":6,"k":"f","x":2.7,"y":0.05},{"p":6,"k":"f","x":2.9,"y":0.095},{"p":6,"k":"f","x":3.1,"y":0.06},{"p":6,"k":"f","x":3.3,"y":0.075},{"p":6,"k":"f","x":3.5,"y":0.055},{"p":6,"k":"f","x":3.7,"y":0.09},{"p":6,"k":"f","x":3.9,"y":0.07},{"p":6,"k":"f","x":4.1,"y":0.05},{"p":6,"k":"f","x":4.3,"y":0.085},{"p":6,"k":"f","x":4.6,"y":0.065},{"p":6,"k":"f","x":4.9,"y":0.1},{"p":6,"k":"f","x":5.2,"y":0.06},{"p":6,"k":"f","x":5.5,"y":0.075},{"p":6,"k":"f","x":5.8,"y":0.05},{"p":6,"k":"f","x":6.1,"y":0.09},{"p":6,"k":"f","x":6.4,"y":0.07},{"p":6,"k":"f","x":6.7,"y":0.055},{"p":6,"k":"f","x":7.0,"y":0.095},{"p":6,"k":"f","x":7.3,"y":0.065},{"p":6,"k":"f","x":7.6,"y":0.08},{"p":6,"k":"f","x":7.9,"y":0.05},{"p":6,"k":"f","x":8.2,"y":0.07},{"p":6,"k":"f","x":8.5,"y":0.09},{"p":6,"k":"f","x":8.8,"y":0.06},{"p":6,"k":"f","x":9.1,"y":0.075},{"p":6,"k":"f","x":9.4,"y":0.065},{"p":6,"k":"f","x":9.7,"y":0.085},{"p":6,"k":"f","x":10.0,"y":0.055},{"p":6,"k":"f","x":10.3,"y":0.07},{"p":6,"k":"f","x":10.7,"y":0.06},{"p":6,"k":"f","x":11.1,"y":0.08},{"p":6,"k":"f","x":11.5,"y":0.1},{"p":6,"k":"f","x":11.9,"y":0.065},{"p":6,"k":"f","x":12.3,"y":0.075},{"p":6,"k":"f","x":12.7,"y":0.055},{"p":6,"k":"f","x":13.1,"y":0.085},{"p":6,"k":"f","x":13.5,"y":0.07},{"p":6,"k":"f","x":14.0,"y":0.06},{"p":6,"k":"f","x":14.5,"y":0.05},{"p":6,"k":"f","x":15.0,"y":0.075},{"p":6,"k":"f","x":15.5,"y":0.1},{"p":6,"k":"f","x":16.0,"y":0.065},{"p":6,"k":"f","x":16.5,"y":0.08},{"p":6,"k":"f","x":17.0,"y":0.06},{"p":6,"k":"f","x":17.5,"y":0.07},{"p":6,"k":"f","x":18.0,"y":0.09},{"p":6,"k":"f","x":18.5,"y":0.065},{"p":6,"k":"f","x":19.0,"y":0.055},{"p":6,"k":"f","x":19.5,"y":0.075},{"p":6,"k":"f","x":20.0,"y":0.06},{"p":6,"k":"f","x":20.5,"y":0.08},{"p":6,"k":"f","x":21.5,"y":0.07},{"p":6,"k":"f","x":21.8,"y":0.07},

      {"p":7,"k":"R","x":2.7,"y":11000},{"p":7,"k":"R","x":2.9,"y":14000},{"p":7,"k":"R","x":3.1,"y":9000},{"p":7,"k":"R","x":3.3,"y":12500},{"p":7,"k":"R","x":3.5,"y":16000},{"p":7,"k":"R","x":3.7,"y":10500},{"p":7,"k":"R","x":3.9,"y":13000},{"p":7,"k":"R","x":4.1,"y":8500},{"p":7,"k":"R","x":4.3,"y":11500},{"p":7,"k":"R","x":4.5,"y":15000},{"p":7,"k":"R","x":4.7,"y":12000},{"p":7,"k":"R","x":4.9,"y":9500},{"p":7,"k":"R","x":5.1,"y":14000},{"p":7,"k":"R","x":5.3,"y":19000},{"p":7,"k":"R","x":5.5,"y":11000},{"p":7,"k":"R","x":5.7,"y":13500},{"p":7,"k":"R","x":5.9,"y":22000},{"p":7,"k":"R","x":6.1,"y":10000},{"p":7,"k":"R","x":6.3,"y":12500},{"p":7,"k":"R","x":6.5,"y":15500},{"p":7,"k":"R","x":6.7,"y":9000},{"p":7,"k":"R","x":6.9,"y":11500},{"p":7,"k":"R","x":7.1,"y":14000},{"p":7,"k":"R","x":7.3,"y":10500},{"p":7,"k":"R","x":7.5,"y":12000},{"p":7,"k":"R","x":7.7,"y":8500},{"p":7,"k":"R","x":7.9,"y":11000},{"p":7,"k":"R","x":8.1,"y":13000},{"p":7,"k":"R","x":8.3,"y":9500},{"p":7,"k":"R","x":8.5,"y":12000},{"p":7,"k":"R","x":8.8,"y":10000},{"p":7,"k":"R","x":9.1,"y":8000},{"p":7,"k":"R","x":9.4,"y":11000},{"p":7,"k":"R","x":9.7,"y":9000},{"p":7,"k":"R","x":10.0,"y":7500},{"p":7,"k":"R","x":10.3,"y":9800},{"p":7,"k":"R","x":10.6,"y":8500},{"p":7,"k":"R","x":10.9,"y":7000},{"p":7,"k":"R","x":11.2,"y":9000},{"p":7,"k":"R","x":11.5,"y":7800},{"p":7,"k":"R","x":11.8,"y":6500},{"p":7,"k":"R","x":12.1,"y":8200},{"p":7,"k":"R","x":12.4,"y":6000},{"p":7,"k":"R","x":12.7,"y":7200},{"p":7,"k":"R","x":13.0,"y":5500},{"p":7,"k":"R","x":13.4,"y":6600},{"p":7,"k":"R","x":13.8,"y":5000},{"p":7,"k":"R","x":14.2,"y":6000},{"p":7,"k":"R","x":14.6,"y":5200},{"p":7,"k":"R","x":15.0,"y":4500},{"p":7,"k":"R","x":15.4,"y":5800},{"p":7,"k":"R","x":15.8,"y":4800},{"p":7,"k":"R","x":16.2,"y":5300},{"p":7,"k":"R","x":16.6,"y":4400},{"p":7,"k":"R","x":17.0,"y":5000},{"p":7,"k":"R","x":17.4,"y":4200},{"p":7,"k":"R","x":17.8,"y":4800},{"p":7,"k":"R","x":18.2,"y":2900},{"p":7,"k":"R","x":18.6,"y":4400},{"p":7,"k":"R","x":19.0,"y":3900},{"p":7,"k":"R","x":19.4,"y":4600},{"p":7,"k":"R","x":19.8,"y":3700},{"p":7,"k":"R","x":20.2,"y":4200},{"p":7,"k":"R","x":20.6,"y":3500},{"p":7,"k":"R","x":21.0,"y":4000},{"p":7,"k":"R","x":21.4,"y":3300},{"p":7,"k":"R","x":21.8,"y":3800},
      {"p":7,"k":"C","x":2.7,"y":45},{"p":7,"k":"C","x":2.9,"y":38},{"p":7,"k":"C","x":3.1,"y":55},{"p":7,"k":"C","x":3.3,"y":32},{"p":7,"k":"C","x":3.5,"y":48},{"p":7,"k":"C","x":3.7,"y":42},{"p":7,"k":"C","x":3.9,"y":60},{"p":7,"k":"C","x":4.1,"y":36},{"p":7,"k":"C","x":4.3,"y":50},{"p":7,"k":"C","x":4.5,"y":30},{"p":7,"k":"C","x":4.7,"y":44},{"p":7,"k":"C","x":4.9,"y":52},{"p":7,"k":"C","x":5.1,"y":40},{"p":7,"k":"C","x":5.3,"y":27},{"p":7,"k":"C","x":5.5,"y":35},{"p":7,"k":"C","x":5.8,"y":24},{"p":7,"k":"C","x":6.1,"y":48},{"p":7,"k":"C","x":6.3,"y":62},{"p":7,"k":"C","x":6.6,"y":40},{"p":7,"k":"C","x":6.9,"y":55},{"p":7,"k":"C","x":7.2,"y":35},{"p":7,"k":"C","x":7.5,"y":46},{"p":7,"k":"C","x":7.8,"y":60},{"p":7,"k":"C","x":8.1,"y":38},{"p":7,"k":"C","x":8.4,"y":52},{"p":7,"k":"C","x":8.7,"y":30},{"p":7,"k":"C","x":9.0,"y":25},{"p":7,"k":"C","x":9.2,"y":42},{"p":7,"k":"C","x":9.5,"y":65},{"p":7,"k":"C","x":9.8,"y":48},{"p":7,"k":"C","x":10.1,"y":36},{"p":7,"k":"C","x":10.4,"y":55},{"p":7,"k":"C","x":10.7,"y":70},{"p":7,"k":"C","x":11.0,"y":45},{"p":7,"k":"C","x":11.3,"y":60},{"p":7,"k":"C","x":11.6,"y":90},{"p":7,"k":"C","x":11.9,"y":110},{"p":7,"k":"C","x":12.2,"y":75},{"p":7,"k":"C","x":12.5,"y":40},{"p":7,"k":"C","x":12.8,"y":30},{"p":7,"k":"C","x":13.1,"y":85},{"p":7,"k":"C","x":13.4,"y":60},{"p":7,"k":"C","x":13.7,"y":95},{"p":7,"k":"C","x":14.0,"y":70},{"p":7,"k":"C","x":14.4,"y":85},{"p":7,"k":"C","x":14.8,"y":100},{"p":7,"k":"C","x":15.2,"y":75},{"p":7,"k":"C","x":15.6,"y":95},{"p":7,"k":"C","x":16.0,"y":80},{"p":7,"k":"C","x":16.4,"y":105},{"p":7,"k":"C","x":16.8,"y":90},{"p":7,"k":"C","x":17.2,"y":85},{"p":7,"k":"C","x":17.6,"y":110},{"p":7,"k":"C","x":18.0,"y":95},{"p":7,"k":"C","x":18.4,"y":140},{"p":7,"k":"C","x":18.8,"y":100},{"p":7,"k":"C","x":19.2,"y":90},{"p":7,"k":"C","x":19.6,"y":120},{"p":7,"k":"C","x":20.0,"y":105},{"p":7,"k":"C","x":20.4,"y":95},{"p":7,"k":"C","x":20.8,"y":130},{"p":7,"k":"C","x":21.2,"y":110},{"p":7,"k":"C","x":21.6,"y":165},{"p":7,"k":"C","x":21.8,"y":100},
      {"p":7,"k":"f","x":2.7,"y":0.0022},{"p":7,"k":"f","x":2.9,"y":0.0017},{"p":7,"k":"f","x":3.1,"y":0.003},{"p":7,"k":"f","x":3.3,"y":0.002},{"p":7,"k":"f","x":3.5,"y":0.0026},{"p":7,"k":"f","x":3.7,"y":0.0015},{"p":7,"k":"f","x":3.9,"y":0.0023},{"p":7,"k":"f","x":4.1,"y":0.0019},{"p":7,"k":"f","x":4.3,"y":0.0028},{"p":7,"k":"f","x":4.5,"y":0.0016},{"p":7,"k":"f","x":4.8,"y":0.0024},{"p":7,"k":"f","x":5.1,"y":0.002},{"p":7,"k":"f","x":5.4,"y":0.0017},{"p":7,"k":"f","x":5.7,"y":0.0026},{"p":7,"k":"f","x":6.0,"y":0.0019},{"p":7,"k":"f","x":6.3,"y":0.0015},{"p":7,"k":"f","x":6.6,"y":0.0022},{"p":7,"k":"f","x":6.9,"y":0.0028},{"p":7,"k":"f","x":7.2,"y":0.0013},{"p":7,"k":"f","x":7.5,"y":0.002},{"p":7,"k":"f","x":7.8,"y":0.0025},{"p":7,"k":"f","x":8.1,"y":0.0018},{"p":7,"k":"f","x":8.4,"y":0.0023},{"p":7,"k":"f","x":8.7,"y":0.0016},{"p":7,"k":"f","x":9.0,"y":0.0027},{"p":7,"k":"f","x":9.3,"y":0.002},{"p":7,"k":"f","x":9.6,"y":0.0017},{"p":7,"k":"f","x":9.9,"y":0.0024},{"p":7,"k":"f","x":10.2,"y":0.0015},{"p":7,"k":"f","x":10.5,"y":0.0021},{"p":7,"k":"f","x":10.8,"y":0.0018},{"p":7,"k":"f","x":11.1,"y":0.0014},{"p":7,"k":"f","x":11.5,"y":0.0019},{"p":7,"k":"f","x":11.9,"y":0.0024},{"p":7,"k":"f","x":12.3,"y":0.0028},{"p":7,"k":"f","x":12.7,"y":0.0033},{"p":7,"k":"f","x":13.1,"y":0.0025},{"p":7,"k":"f","x":13.5,"y":0.003},{"p":7,"k":"f","x":13.9,"y":0.0021},{"p":7,"k":"f","x":14.3,"y":0.0027},{"p":7,"k":"f","x":14.7,"y":0.0029},{"p":7,"k":"f","x":15.1,"y":0.0025},{"p":7,"k":"f","x":15.5,"y":0.0028},{"p":7,"k":"f","x":15.9,"y":0.0024},{"p":7,"k":"f","x":16.3,"y":0.0026},{"p":7,"k":"f","x":16.7,"y":0.0023},{"p":7,"k":"f","x":17.1,"y":0.0025},{"p":7,"k":"f","x":17.5,"y":0.0027},{"p":7,"k":"f","x":17.9,"y":0.0023},{"p":7,"k":"f","x":18.3,"y":0.0026},{"p":7,"k":"f","x":18.7,"y":0.0021},{"p":7,"k":"f","x":19.1,"y":0.0028},{"p":7,"k":"f","x":19.5,"y":0.0022},{"p":7,"k":"f","x":19.9,"y":0.0025},{"p":7,"k":"f","x":20.3,"y":0.002},{"p":7,"k":"f","x":20.7,"y":0.0027},{"p":7,"k":"f","x":21.1,"y":0.0023},{"p":7,"k":"f","x":21.5,"y":0.0018},{"p":7,"k":"f","x":21.8,"y":0.0026},

      {"p":1,"k":"ann","letter":"f","sub":"a,1","x":12.5,"y":46000},{"p":1,"k":"ann","letter":"C","sub":"a,1","x":12.1,"y":1.66},{"p":1,"k":"ann","letter":"R","sub":"a,1","x":17.9,"y":0.018},
      {"p":2,"k":"ann","letter":"f","sub":"a,2","x":16.1,"y":1400},{"p":2,"k":"ann","letter":"R","sub":"a,2","x":5.9,"y":13},{"p":2,"k":"ann","letter":"C","sub":"a,2","x":15.0,"y":0.0046},
      {"p":3,"k":"ann","letter":"R","sub":"a,3","x":14.1,"y":900},{"p":3,"k":"ann","letter":"f","sub":"a,3","x":14.3,"y":14},{"p":3,"k":"ann","letter":"C","sub":"a,3","x":12.3,"y":0.0105},
      {"p":4,"k":"ann","letter":"R","sub":"a,4","x":13.3,"y":1860},{"p":4,"k":"ann","letter":"f","sub":"a,4","x":14.4,"y":19},{"p":4,"k":"ann","letter":"C","sub":"a,4","x":13.3,"y":0.034},
      {"p":5,"k":"ann","letter":"R","sub":"a,5","x":12.6,"y":2950},{"p":5,"k":"ann","letter":"f","sub":"a,5","x":15.3,"y":3.5},{"p":5,"k":"ann","letter":"C","sub":"a,5","x":13.5,"y":0.145},
      {"p":6,"k":"ann","letter":"R","sub":"a,6","x":16.3,"y":9100},{"p":6,"k":"ann","letter":"C","sub":"a,6","x":14.8,"y":13},{"p":6,"k":"ann","letter":"f","sub":"a,6","x":17.6,"y":0.19},
      {"p":7,"k":"ann","letter":"R","sub":"a,7","x":9.0,"y":1250},{"p":7,"k":"ann","letter":"C","sub":"a,7","x":17.8,"y":13},{"p":7,"k":"ann","letter":"f","sub":"a,7","x":18.3,"y":0.0066},

      {"p":1,"k":"box","x":6.4,"x2":18.2,"y":234,"y2":1260},
      {"p":2,"k":"box","x":6.4,"x2":18.3,"y":126000,"y2":741000},
      {"p":3,"k":"box","x":6.4,"x2":18.2,"y":126000,"y2":741000},
      {"p":4,"k":"box","x":6.5,"x2":18.1,"y":126000,"y2":741000},
      {"p":5,"k":"box","x":6.4,"x2":18.1,"y":126000,"y2":741000},
      {"p":6,"k":"box","x":6.3,"x2":18.1,"y":126000,"y2":741000},
      {"p":7,"k":"box","x":6.4,"x2":18.1,"y":126000,"y2":741000},
      {"p":1,"k":"lab","label":"第1項","x":12.3,"y":543},
      {"p":2,"k":"lab","label":"第2項","x":12.35,"y":305000},
      {"p":3,"k":"lab","label":"第3項","x":12.3,"y":305000},
      {"p":4,"k":"lab","label":"第4項","x":12.3,"y":305000},
      {"p":5,"k":"lab","label":"第5項","x":12.25,"y":305000},
      {"p":6,"k":"lab","label":"第6項","x":12.2,"y":305000},
      {"p":7,"k":"lab","label":"第7項","x":12.25,"y":305000}
    ]
  },
  "data": {"name": "pts"},
  "facet": {"column": {"field": "p", "type": "ordinal", "header": {"title": null, "labels": false, "labelPadding": 0}}},
  "spec": {
    "width": 140,
    "height": 369,
    "encoding": {
      "x": {"field": "x", "type": "quantitative", "scale": {"domain": [0, 25], "nice": false, "zero": false},
        "axis": {"title": "VH [g/m³]", "values": [0, 5, 10, 15, 20, 25], "grid": true, "gridColor": "#D9D9D9", "ticks": false, "domain": false, "labelFlush": false, "labelOffset": -5, "labelPadding": 4, "labelFont": "Liberation Serif", "labelFontSize": 13, "labelColor": "#333333", "titleFont": "Liberation Serif", "titleFontSize": 13, "titleFontWeight": "normal", "titleColor": "#333333", "titlePadding": 3}},
      "y": {"field": "y", "type": "quantitative", "scale": {"type": "log", "domain": [0.001, 1000000], "nice": false},
        "axis": {"title": "Rₐ,ᵢ [MΩ/module], Cₐ,ᵢ [nF/module], ωₐ,ᵢ [Hz]",
          "values": [0.001,0.002,0.003,0.004,0.005,0.006,0.007,0.008,0.009,0.01,0.02,0.03,0.04,0.05,0.06,0.07,0.08,0.09,0.1,0.2,0.3,0.4,0.5,0.6,0.7,0.8,0.9,1,2,3,4,5,6,7,8,9,10,20,30,40,50,60,70,80,90,100,200,300,400,500,600,700,800,900,1000,2000,3000,4000,5000,6000,7000,8000,9000,10000,20000,30000,40000,50000,60000,70000,80000,90000,100000,200000,300000,400000,500000,600000,700000,800000,900000,1000000],
          "labelExpr": "abs(log(datum.value)/LN10 - round(log(datum.value)/LN10)) < 0.001 ? ['10⁻³','10⁻²','10⁻¹','10⁰','10¹','10²','10³','10⁴','10⁵','10⁶'][round(log(datum.value)/LN10)+3] : ''",
          "labelOverlap": false, "grid": true,
          "gridColor": {"condition": {"test": "abs(log(datum.value)/LN10 - round(log(datum.value)/LN10)) < 0.001", "value": "#C4C4C4"}, "value": "#ECECEC"},
          "ticks": false, "domain": false, "labelPadding": 7, "labelFont": "Liberation Serif", "labelFontSize": 14, "labelColor": "#333333",
          "titleFont": "Liberation Serif", "titleFontSize": 12.5, "titleFontWeight": "normal", "titleColor": "#444444", "titlePadding": 5}}
    },
    "layer": [
      {"transform": [{"filter": "datum.k === 'box'"}], "mark": {"type": "rect"},
        "encoding": {"x2": {"field": "x2"}, "y2": {"field": "y2"}, "fill": {"field": "p", "type": "nominal", "scale": {"domain": [1,2,3,4,5,6,7], "range": ["#C00000","#FF0000","#FFC000","#92D050","#00B050","#00B0F0","#0070C0"]}, "legend": null}}},
      {"transform": [{"filter": "datum.k === 'lab'"}], "mark": {"type": "text", "font": "Noto Sans CJK JP", "fontSize": 16, "fontWeight": "bold", "fill": "white", "align": "center", "baseline": "middle"},
        "encoding": {"text": {"field": "label"}}},
      {"transform": [{"filter": "datum.k === 'f'"}], "mark": {"type": "point", "shape": "M-1,-1L1,1M-1,1L1,-1", "filled": false, "stroke": "#3A3A3A", "size": 28, "strokeWidth": 1, "opacity": 1}},
      {"transform": [{"filter": "datum.k === 'C'"}], "mark": {"type": "point", "shape": "circle", "filled": false, "stroke": "#111111", "size": 26, "strokeWidth": 1.2, "opacity": 1}},
      {"transform": [{"filter": "datum.k === 'R'"}], "mark": {"type": "point", "shape": "circle", "filled": true, "fill": "#000000", "size": 30, "opacity": 1}},
      {"transform": [{"filter": "datum.k === 'ann'"}], "mark": {"type": "text", "font": "Liberation Serif", "fontStyle": "italic", "fontSize": 19, "align": "right", "baseline": "alphabetic"},
        "encoding": {"text": {"field": "letter"}, "color": {"field": "p", "type": "nominal", "scale": {"domain": [1,2,3,4,5,6,7], "range": ["#A8292E","#E8383D","#F2C037","#92C75A","#2EAB6E","#29A9DC","#2E7AB8"]}, "legend": null}}},
      {"transform": [{"filter": "datum.k === 'ann'"}], "mark": {"type": "text", "font": "Liberation Serif", "fontStyle": "italic", "fontSize": 13, "align": "left", "baseline": "alphabetic", "dy": 4, "dx": 0.5},
        "encoding": {"text": {"field": "sub"}, "color": {"field": "p", "type": "nominal", "legend": null}}}
    ]
  },
  "config": {
    "view": {"stroke": "#3C3C3C", "strokeWidth": 1}
  }
}
